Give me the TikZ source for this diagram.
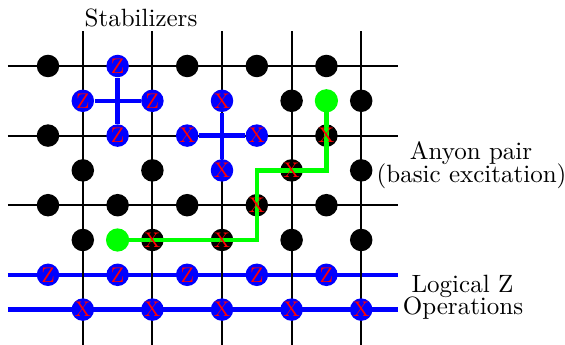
\documentclass[tikz,border=0pt]{standalone}
\definecolor{opblue}{RGB}{0,0,255}
\definecolor{anyongreen}{RGB}{0,255,0}
\definecolor{paulired}{RGB}{255,0,0}
\tikzset{
  lattice/.style={line width=0.8pt, draw=black},
  opline/.style={line width=1.7pt, draw=opblue},
  strand/.style={line width=1.7pt, draw=anyongreen},
  site/.style={circle, inner sep=0pt, minimum size=9pt, fill=black},
  opsite/.style={site, fill=opblue},
  anyon/.style={circle, inner sep=0pt, minimum size=9.3pt, fill=anyongreen},
  pauli/.style={inner sep=0pt, text=paulired, font=\fontsize{8.5}{8.5}\selectfont},
  caption/.style={inner sep=0pt, anchor=base, font=\fontsize{10}{10}\selectfont},
}
\begin{document}
\begin{tikzpicture}[x=13.92pt, y=-13.92pt]
\useasboundingbox (-1.3793,-1.8966) rectangle (14.856,8.0172);

% logical operator strings (under the lattice)
\coordinate (zl-w) at (-1.15,6); \coordinate (zl-e) at (10.06,6);
\coordinate (xl-w) at (-1.15,7); \coordinate (xl-e) at (10.06,7);
\draw[opline] (zl-w) -- (zl-e);
\draw[opline] (xl-w) -- (xl-e);

% square lattice
\foreach \j in {0,2,4} {
  \coordinate (row-\j-w) at (-1.15,\j);
  \coordinate (row-\j-e) at (10.06,\j);
  \draw[lattice] (row-\j-w) -- (row-\j-e);
}
\foreach \i in {1,3,5,7,9} {
  \coordinate (col-\i-n) at (\i,-1.0);
  \coordinate (col-\i-s) at (\i,8.0172);
  \draw[lattice] (col-\i-n) -- (col-\i-s);
}

% qubits on the edges
\foreach \i/\j in {0/0,4/0,6/0,8/0, 7/1,9/1, 0/2,8/2, 1/3,3/3,7/3,9/3,
                   0/4,2/4,4/4,6/4,8/4, 1/5,3/5,5/5,7/5,9/5}
  \node[site] (q-\i-\j) at (\i,\j) {};
\foreach \i/\j in {2/0, 1/1,3/1,5/1, 2/2,4/2,6/2, 5/3,
                   0/6,2/6,4/6,6/6,8/6, 1/7,3/7,5/7,7/7,9/7}
  \node[opsite] (q-\i-\j) at (\i,\j) {};

% plaquette (Z) and star (X) stabilizers
\draw[opline] (q-2-0) -- (q-2-2);
\draw[opline] (q-1-1) -- (q-3-1);
\draw[opline] (q-5-1) -- (q-5-3);
\draw[opline] (q-4-2) -- (q-6-2);

% anyon pair joined by its string
\node[anyon] (a-1) at (8,1) {};
\node[anyon] (a-2) at (2,5) {};
\draw[strand] (a-1.center) |- (q-7-3.center) -| (q-6-4.center) |- (a-2.center);

% Pauli labels
\foreach \i/\j in {2/0,1/1,3/1,2/2, 0/6,2/6,4/6,6/6,8/6}
  \node[pauli] (p-\i-\j) at (q-\i-\j) {Z};
\foreach \i/\j in {5/1,4/2,6/2,5/3, 8/2,7/3,6/4,5/5,3/5, 1/7,3/7,5/7,7/7,9/7}
  \node[pauli] (p-\i-\j) at (q-\i-\j) {X};

% captions
\node[caption] (cap-stab) at (2.672,-1.149) {Stabilizers};
\node[caption] (cap-any1) at (12.155,2.687) {Anyon pair};
\node[caption] (cap-any2) at (12.17,3.348) {(basic excitation)};
\node[caption] (cap-log1) at (11.91,6.503) {Logical Z};
\node[caption] (cap-log2) at (11.925,7.155) {Operations};
\end{tikzpicture}
\end{document}
